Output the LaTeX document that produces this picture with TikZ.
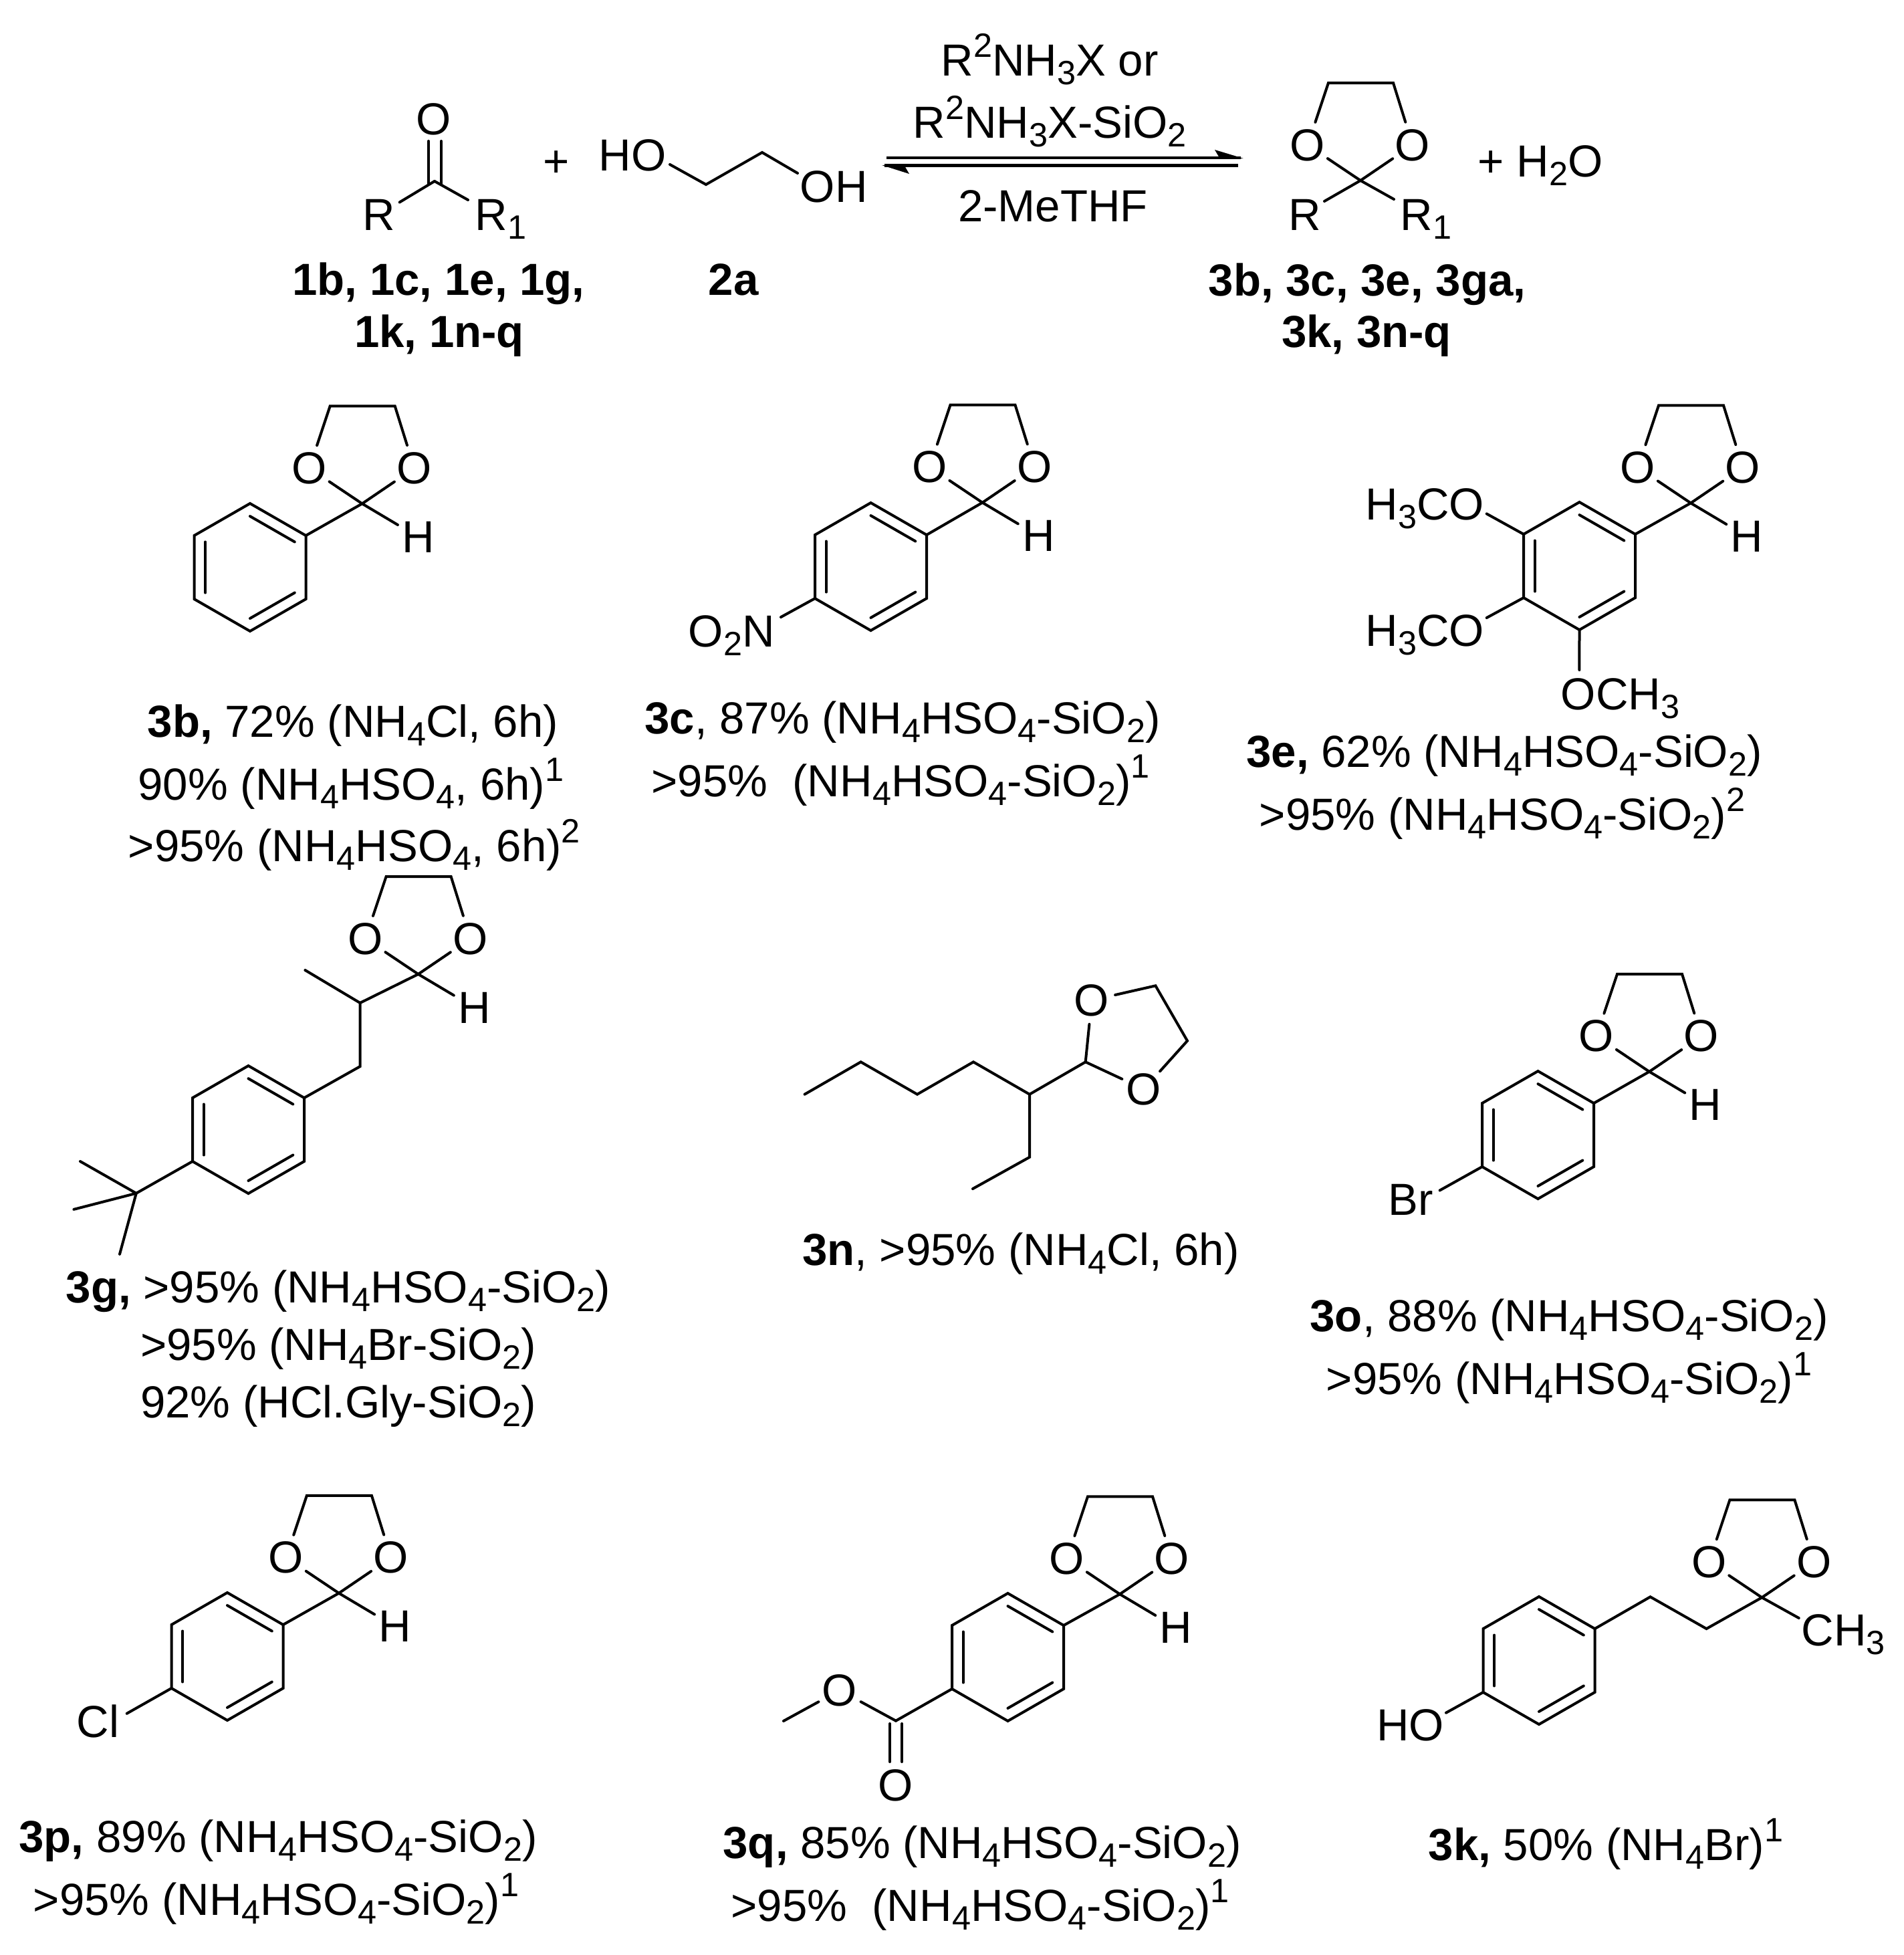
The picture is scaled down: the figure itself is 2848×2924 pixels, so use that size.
\documentclass[tikz,border=0pt]{standalone}
\usepackage{fontspec}
\setmainfont{Liberation Sans}
\usetikzlibrary{calc}
\newcommand\dn[1]{\raisebox{-3.3pt}{\fontsize{12.6}{12.6}\selectfont #1}}
\newcommand\up[1]{\raisebox{7pt}{\fontsize{12.6}{12.6}\selectfont #1}}
\tikzset{
  bond/.style={line width=1pt,line cap=round,line join=miter},
  atom/.style={circle,inner sep=0pt,minimum size=17.5pt,font=\fontsize{16.8}{16.8}\selectfont},
  lab/.style={inner sep=0pt,anchor=base west,xshift=-1pt,font=\fontsize{16.8}{16.8}\selectfont},
  txt/.style={inner sep=0pt,anchor=base,font=\fontsize{16.8}{16.8}\selectfont},
}
\newcommand\diox[3]{%
  \coordinate (#1C) at (#2,#3);
  \node[atom] (#1Oa) at ($(#1C)+(-79,-53)$) {O};
  \node[atom] (#1Ob) at ($(#1C)+(78,-53)$) {O};
  \coordinate (#1Ma) at ($(#1C)+(-48,-146)$);
  \coordinate (#1Mb) at ($(#1C)+(49,-146)$);
  \draw[bond] (#1C) -- (#1Oa);
  \draw[bond] (#1Oa) -- (#1Ma) -- (#1Mb) -- (#1Ob);
  \draw[bond] (#1Ob) -- (#1C);
}
\newcommand\hyd[1]{%
  \node[atom] (#1H) at ($(#1C)+(84,50)$) {H};
  \draw[bond] (#1C) -- (#1H);
}
\newcommand\hexa[3]{%
  \coordinate (#1a) at (#2,#3);
  \coordinate (#1b) at ($(#1a)+(-83.5,-48)$);
  \coordinate (#1c) at ($(#1a)+(-167,0)$);
  \coordinate (#1d) at ($(#1a)+(-167,95)$);
  \coordinate (#1e) at ($(#1a)+(-83.5,143)$);
  \coordinate (#1f) at ($(#1a)+(0,95)$);
  \coordinate (#1m) at ($(#1a)+(-83.5,47.5)$);
  \draw[bond] (#1a) -- (#1b) -- (#1c) -- (#1d) -- (#1e) -- (#1f) -- cycle;
  \draw[bond] ($(#1a)!0.2!(#1m)$) -- ($(#1b)!0.2!(#1m)$);
  \draw[bond] ($(#1c)!0.2!(#1m)$) -- ($(#1d)!0.2!(#1m)$);
  \draw[bond] ($(#1e)!0.2!(#1m)$) -- ($(#1f)!0.2!(#1m)$);
}
\begin{document}
\begin{tikzpicture}[x=0.25pt,y=-0.25pt]
\useasboundingbox (0,0) rectangle (2848,2924);
% ---------- reaction line
\coordinate (k) at (650,271);
\node[atom] (kO) at (649,178) {O};
\node[atom] (kR) at (567,321) {R};
\node[lab] (kRone) at (714,344) {R\dn{1}};
\coordinate (kRe) at (700,299);
\coordinate (kOa) at (641,211); \coordinate (kOb) at (660,211);
\coordinate (kCa) at (641,275); \coordinate (kCb) at (660,276);
\draw[bond] (k) -- (kR);
\draw[bond] (k) -- (kRe);
\draw[bond] (kOa) -- (kCa);
\draw[bond] (kOb) -- (kCb);
\node[txt,anchor=center] (plusa) at (832,245) {+};
\node[lab] (glyHO) at (899,255) {HO};
\node[lab] (glyOH) at (1200,302) {OH};
\coordinate (gh) at (1002,246);
\coordinate (g1) at (1056,276);
\coordinate (g2) at (1140,228);
\coordinate (go) at (1193,259);
\draw[bond] (gh) -- (g1) -- (g2) -- (go);
\node[txt] (rea) at (1570,113) {R\up{2}NH\dn{3}X or};
\node[txt] (reb) at (1570,206) {R\up{2}NH\dn{3}X-SiO\dn{2}};
\node[txt] (rec) at (1575,331) {2-MeTHF};
\coordinate (aS) at (1326,236); \coordinate (aE) at (1856,236);
\coordinate (bS) at (1852,247.5); \coordinate (bE) at (1323,247.5);
\draw[bond,line width=1.1pt,line cap=butt] (aS) -- (aE);
\draw[bond,line width=1.1pt,line cap=butt] (bS) -- (bE);
\coordinate (aT) at (1860,237); \coordinate (aB) at (1817,224); \coordinate (aN) at (1824,236);
\coordinate (bT) at (1319,247); \coordinate (bB) at (1360,260); \coordinate (bN) at (1353,248);
\fill (aT) -- (aB) -- (aN) -- cycle;
\fill (bT) -- (bB) -- (bN) -- cycle;
\diox{pr}{2035}{270}
\node[lab] (prR) at (1931,344) {R};
\node[lab] (prRone) at (2098,344) {R\dn{1}};
\coordinate (prRa) at (1981,301);
\coordinate (prRb) at (2085,298);
\draw[bond] (prC) -- (prRa);
\draw[bond] (prC) -- (prRb);
\node[lab] (water) at (2214,264) {+ H\dn{2}O};
\node[txt] (la) at (656,441) {\bfseries 1b, 1c, 1e, 1g,};
\node[txt] (lb) at (657,519) {\bfseries 1k, 1n-q};
\node[txt] (lc) at (1097,441) {\bfseries 2a};
\node[txt] (ld) at (2045,442) {\bfseries 3b, 3c, 3e, 3ga,};
\node[txt] (le) at (2044,519) {\bfseries 3k, 3n-q};
% ---------- 3b
\diox{b}{541.7}{753.3}\hyd{b}
\hexa{bh}{457.5}{801}
\draw[bond] (bha) -- (bC);
\node[txt] (tba) at (528,1102) {\textbf{3b,} 72\% (NH\dn{4}Cl, 6h)};
\node[txt] (tbb) at (525,1196) {90\% (NH\dn{4}HSO\dn{4}, 6h)\up{1}};
\node[txt] (tbc) at (530,1288) {>95\% (NH\dn{4}HSO\dn{4}, 6h)\up{2}};
% ---------- 3c
\diox{c}{1469.5}{751.7}\hyd{c}
\hexa{ch}{1386}{800}
\draw[bond] (cha) -- (cC);
\node[lab] (cno) at (1033,967.4) {O\dn{2}N};
\coordinate (cne) at (1168,923);
\draw[bond] (chd) -- (cne);
\node[txt] (tca) at (1350,1097.6) {\textbf{3c}, 87\% (NH\dn{4}HSO\dn{4}-SiO\dn{2})};
\node[txt] (tcb) at (1347,1191.6) {>95\%\ \ (NH\dn{4}HSO\dn{4}-SiO\dn{2})\up{1}};
% ---------- 3e
\diox{e}{2529}{752.4}\hyd{e}
\hexa{eh}{2446}{799}
\draw[bond] (eha) -- (eC);
\node[lab] (eoa) at (2046,777) {H\dn{3}CO};
\node[lab] (eob) at (2046,966) {H\dn{3}CO};
\node[lab] (eoc) at (2338,1061.4) {OCH\dn{3}};
\coordinate (eea) at (2223.7,768.4);
\coordinate (eeb) at (2223.7,924);
\coordinate (eec) at (2362.4,1002);
\draw[bond] (ehc) -- (eea);
\draw[bond] (ehd) -- (eeb);
\draw[bond] (ehe) -- (eec);
\node[txt] (tea) at (2250,1147) {\textbf{3e,} 62\% (NH\dn{4}HSO\dn{4}-SiO\dn{2})};
\node[txt] (teb) at (2247,1241) {>95\% (NH\dn{4}HSO\dn{4}-SiO\dn{2})\up{2}};
% ---------- 3g
\diox{g}{625.6}{1457}\hyd{g}
\hexa{gh}{455}{1642}
\coordinate (gq) at (538.6,1500);
\coordinate (gme) at (456.4,1451);
\coordinate (gch) at (538.6,1595);
\coordinate (gt) at (203.8,1784.7);
\coordinate (gta) at (120,1737);
\coordinate (gtb) at (110.4,1808.8);
\coordinate (gtc) at (179,1875.8);
\draw[bond] (gC) -- (gq) -- (gch) -- (gha);
\draw[bond] (gq) -- (gme);
\draw[bond] (ghd) -- (gt);
\draw[bond] (gt) -- (gta);
\draw[bond] (gt) -- (gtb);
\draw[bond] (gt) -- (gtc);
\node[txt] (tga) at (506,1948) {\textbf{3g,} >95\% (NH\dn{4}HSO\dn{4}-SiO\dn{2})};
\node[txt] (tgb) at (506,2034) {>95\% (NH\dn{4}Br-SiO\dn{2})};
\node[txt] (tgc) at (506,2120) {92\% (HCl.Gly-SiO\dn{2})};
% ---------- 3n
\coordinate (n1) at (1203.6,1636.7);
\coordinate (n2) at (1287.6,1588.3);
\coordinate (n3) at (1372,1636.7);
\coordinate (n4) at (1456,1588.3);
\coordinate (n5) at (1540,1636.7);
\coordinate (n6) at (1540,1730.7);
\coordinate (n7) at (1455,1778);
\coordinate (nC) at (1623.7,1588.3);
\node[atom] (nOa) at (1633,1496) {O};
\node[atom] (nOb) at (1711,1629) {O};
\coordinate (nMa) at (1728.4,1474.3);
\coordinate (nMb) at (1776,1556.7);
\draw[bond] (n1) -- (n2) -- (n3) -- (n4) -- (n5) -- (n6) -- (n7);
\draw[bond] (n5) -- (nC);
\draw[bond] (nC) -- (nOa);
\draw[bond] (nOa) -- (nMa) -- (nMb) -- (nOb);
\draw[bond] (nOb) -- (nC);
\node[txt] (tna) at (1527,1892) {\textbf{3n}, >95\% (NH\dn{4}Cl, 6h)};
% ---------- 3o
\diox{o}{2467}{1602.8}\hyd{o}
\hexa{oh}{2384}{1650}
\draw[bond] (oha) -- (oC);
\node[lab] (obr) at (2080,1817.4) {Br};
\coordinate (obe) at (2153.6,1780.4);
\draw[bond] (ohd) -- (obe);
\node[txt] (toa) at (2347,1991) {\textbf{3o}, 88\% (NH\dn{4}HSO\dn{4}-SiO\dn{2})};
\node[txt] (tob) at (2347,2085) {>95\% (NH\dn{4}HSO\dn{4}-SiO\dn{2})\up{1}};
% ---------- 3p
\diox{p}{506.9}{2382.8}\hyd{p}
\hexa{ph}{423.5}{2430}
\draw[bond] (pha) -- (pC);
\node[lab] (pcl) at (118,2598) {Cl};
\coordinate (pce) at (189.7,2562.8);
\draw[bond] (phd) -- (pce);
\node[txt] (tpa) at (416,2770) {\textbf{3p,} 89\% (NH\dn{4}HSO\dn{4}-SiO\dn{2})};
\node[txt] (tpb) at (413,2864) {>95\% (NH\dn{4}HSO\dn{4}-SiO\dn{2})\up{1}};
% ---------- 3q
\diox{q}{1675}{2384.3}\hyd{q}
\hexa{qh}{1591}{2431}
\draw[bond] (qha) -- (qC);
\coordinate (qe) at (1340,2573.7);
\node[atom] (qOs) at (1256,2528) {O};
\node[atom] (qOd) at (1340,2670) {O};
\coordinate (qme) at (1172,2574);
\coordinate (qda) at (1331,2578); \coordinate (qdb) at (1349,2578);
\coordinate (qdc) at (1331,2635); \coordinate (qdd) at (1349,2635);
\draw[bond] (qhd) -- (qe);
\draw[bond] (qe) -- (qOs);
\draw[bond] (qOs) -- (qme);
\draw[bond] (qda) -- (qdc);
\draw[bond] (qdb) -- (qdd);
\node[txt] (tqa) at (1469,2779) {\textbf{3q,} 85\% (NH\dn{4}HSO\dn{4}-SiO\dn{2})};
\node[txt] (tqb) at (1466,2873) {>95\%\ \ (NH\dn{4}HSO\dn{4}-SiO\dn{2})\up{1}};
% ---------- 3k
\diox{r}{2635.4}{2389.3}
\hexa{rh}{2385.5}{2436}
\coordinate (ra) at (2552.5,2436);
\coordinate (rb) at (2468.5,2388.3);
\draw[bond] (rha) -- (rb) -- (ra) -- (rC);
\node[lab] (rme) at (2698,2461.7) {CH\dn{3}};
\coordinate (rmee) at (2690.7,2420);
\draw[bond] (rC) -- (rmee);
\node[lab] (rho) at (2062.5,2603) {HO};
\coordinate (rhoe) at (2163,2561.7);
\draw[bond] (rhd) -- (rhoe);
\node[txt] (tka) at (2402,2782) {\textbf{3k,} 50\% (NH\dn{4}Br)\up{1}};
\end{tikzpicture}
\end{document}
